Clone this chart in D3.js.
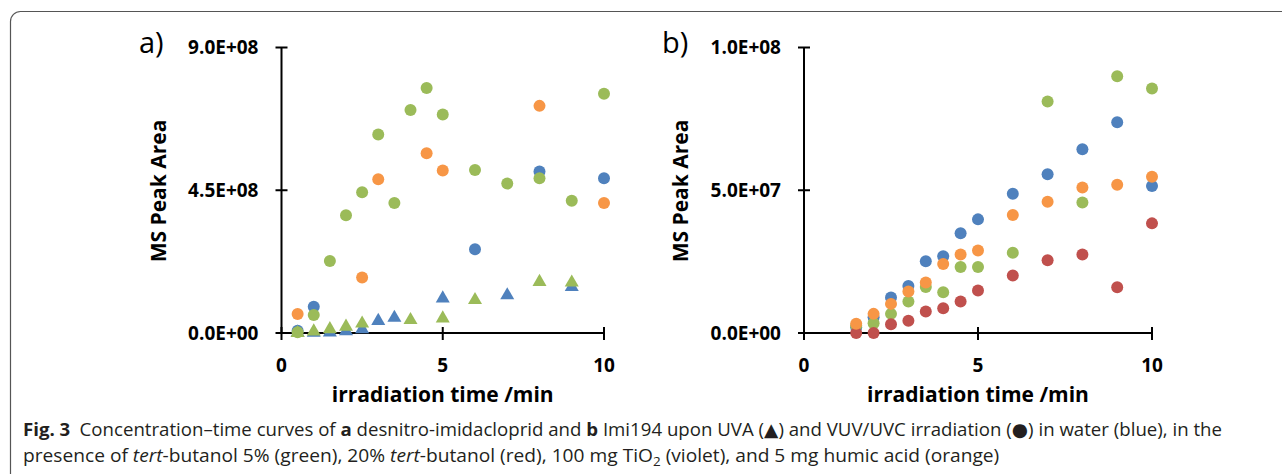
<!DOCTYPE html>
<html>
<head>
<meta charset="utf-8">
<script src="https://cdn.jsdelivr.net/npm/d3@7"></script>
<style>
  body { margin: 0; background: #fff; }
  svg { display: block; }
</style>
</head>
<body>
<svg width="1282" height="474"></svg>
<script>
// Panel a values (x 1e8)
const aWaterUvcTime = [0.5, 1, 6, 8, 10];
const aWaterUvc = [0.07, 0.83, 2.64, 5.09, 4.88];
const aWaterUvaTime = [0.5, 1, 1.5, 2, 2.5, 3, 3.5, 5, 7, 9];
const aWaterUva = [0.01, 0.01, 0.02, 0.06, 0.12, 0.38, 0.48, 1.09, 1.19, 1.45];
const aHumicUvcTime = [0.5, 2.5, 3, 4.5, 5, 8, 10];
const aHumicUvc = [0.60, 1.75, 4.85, 5.67, 5.12, 7.16, 4.10];
const aTbuUvcTime = [0.5, 1, 1.5, 2, 2.5, 3, 3.5, 4, 4.5, 5, 6, 7, 8, 9, 10];
const aTbuUvc = [0.02, 0.57, 2.27, 3.71, 4.44, 6.26, 4.10, 7.03, 7.72, 6.89, 5.14, 4.71, 4.88, 4.17, 7.54];
const aTbuUvaTime = [0.5, 1, 1.5, 2, 2.5, 4, 5, 6, 8, 9];
const aTbuUva = [0.0, 0.05, 0.12, 0.20, 0.30, 0.41, 0.46, 1.04, 1.61, 1.59];

// Panel b values (x 1e6)
const bTime = [1.5, 2, 2.5, 3, 3.5, 4, 4.5, 5, 6, 7, 8, 9, 10];
const bWater = [2.0, 5.5, 12.4, 16.5, 25.1, 26.9, 34.9, 39.8, 48.8, 55.6, 64.4, 73.8, 51.5];
const bTbu5 = [2.5, 3.4, 6.7, 11.0, 16.1, 14.3, 23.1, 23.1, 28.1, 81.1, 45.7, 89.9, 85.6];
const bTbu20 = [0, 0, 3.1, 4.3, 7.5, 8.7, 11.0, 14.9, 20.1, 25.5, 27.5, 16.0, 38.4];
const bHumic = [3.2, 6.7, 10.2, 14.5, 17.7, 24.2, 27.5, 28.9, 41.3, 46.0, 51.0, 51.9, 54.7];

const xTicks = [0, 5, 10];
const aYTicks = [0, 4.5e8, 9e8];
const bYTicks = [0, 5e7, 1e8];
const aYLabels = ["0.0E+00", "4.5E+08", "9.0E+08"];
const bYLabels = ["0.0E+00", "5.0E+07", "1.0E+08"];

const colors = { water: "#4f81bd", tbu5: "#9bbb59", tbu20: "#c0504d", humic: "#f79646" };

const svg = d3.select("svg");

// frame round the figure
svg.append("rect")
    .attr("x", 10.5).attr("y", 11.5)
    .attr("width", 1300).attr("height", 500)
    .attr("rx", 10)
    .attr("fill", "none")
    .attr("stroke", "#555")
    .attr("stroke-width", 1.2);

const zip = (t, v, scale) => t.map((d, i) => ({ t: d, v: v[i] * scale }));

function drawPanel(opts) {
    const x = d3.scaleLinear().domain([0, 10]).range([opts.x0, opts.x1]);
    const y = d3.scaleLinear().domain([0, opts.yMax]).range([333, 47.5]);
    const g = svg.append("g");

    // axes
    g.append("line").attr("x1", x(0)).attr("x2", x(0)).attr("y1", y(opts.yMax)).attr("y2", y(0))
        .attr("stroke", "#000").attr("stroke-width", 2);
    g.append("line").attr("x1", x(0)).attr("x2", x(10)).attr("y1", y(0)).attr("y2", y(0))
        .attr("stroke", "#000").attr("stroke-width", 2);

    opts.yTicks.forEach((v, i) => {
        g.append("line").attr("x1", x(0) - 6).attr("x2", x(0) + 6).attr("y1", y(v)).attr("y2", y(v))
            .attr("stroke", "#000").attr("stroke-width", 2);
        g.append("text").attr("x", x(0) - 23).attr("y", y(v)).attr("dy", "0.35em")
            .attr("text-anchor", "end").attr("font-family", "Open Sans").attr("font-weight", 700)
            .attr("font-size", 19).attr("fill", "#000").text(opts.yLabels[i]);
    });
    xTicks.forEach(v => {
        g.append("line").attr("x1", x(v)).attr("x2", x(v)).attr("y1", y(0) - 6).attr("y2", y(0) + 7)
            .attr("stroke", "#000").attr("stroke-width", 2);
        g.append("text").attr("x", x(v)).attr("y", 365).attr("dy", "0.35em")
            .attr("text-anchor", "middle").attr("font-family", "Open Sans").attr("font-weight", 700)
            .attr("font-size", 19).attr("fill", "#000").text(v);
    });

    // axis titles
    g.append("text")
        .attr("transform", `translate(${x(0) - 123},191) rotate(-90)`)
        .attr("dy", "0.35em").attr("text-anchor", "middle")
        .attr("font-family", "Open Sans").attr("font-weight", 700).attr("font-size", 21)
        .text("MS Peak Area");
    g.append("text")
        .attr("x", (x(0) + x(10)) / 2).attr("y", 395).attr("dy", "0.35em")
        .attr("text-anchor", "middle")
        .attr("font-family", "Open Sans").attr("font-weight", 700).attr("font-size", 21)
        .text("irradiation time /min");

    // panel letter
    g.append("text").attr("x", opts.letterX).attr("y", 53)
        .attr("font-family", "Open Sans").attr("font-size", 29).text(opts.letter);

    // series
    const circle = d3.symbol().type(d3.symbolCircle).size(Math.PI * 36);
    const tri = d3.symbol().type(d3.symbolTriangle).size(85);
    opts.series.forEach(s => {
        g.append("g").selectAll("path")
            .data(s.data)
            .join("path")
            .attr("transform", d => `translate(${x(d.t)},${y(d.v)})`)
            .attr("d", s.shape === "tri" ? tri : circle)
            .attr("fill", s.color);
    });
}

drawPanel({
    x0: 281.5, x1: 604, yMax: 9e8,
    yTicks: aYTicks, yLabels: aYLabels, letter: "a)", letterX: 139,
    series: [
        { data: zip(aWaterUvcTime, aWaterUvc, 1e8), color: colors.water, shape: "circle" },
        { data: zip(aWaterUvaTime, aWaterUva, 1e8), color: colors.water, shape: "tri" },
        { data: zip(aHumicUvcTime, aHumicUvc, 1e8), color: colors.humic, shape: "circle" },
        { data: zip(aTbuUvcTime, aTbuUvc, 1e8), color: colors.tbu5, shape: "circle" },
        { data: zip(aTbuUvaTime, aTbuUva, 1e8), color: colors.tbu5, shape: "tri" }
    ]
});

drawPanel({
    x0: 804, x1: 1152, yMax: 1e8,
    yTicks: bYTicks, yLabels: bYLabels, letter: "b)", letterX: 662,
    series: [
        { data: zip(bTime, bWater, 1e6), color: colors.water, shape: "circle" },
        { data: zip(bTime, bTbu5, 1e6), color: colors.tbu5, shape: "circle" },
        { data: zip(bTime, bTbu20, 1e6), color: colors.tbu20, shape: "circle" },
        { data: zip(bTime, bHumic, 1e6), color: colors.humic, shape: "circle" }
    ]
});

// caption
const cap = svg.append("g").attr("font-family", "Open Sans").attr("font-size", 18.5).attr("fill", "#231f20");
const line1 = cap.append("text").attr("y", 436);
line1.append("tspan").attr("font-weight", 700).text("Fig. 3");
line1.append("tspan").text("\u2002Concentration\u2013time curves of ");
line1.append("tspan").attr("font-weight", 700).text("a");
line1.append("tspan").text(" desnitro-imidacloprid and ");
line1.append("tspan").attr("font-weight", 700).text("b");
line1.append("tspan").text(" Imi194 upon UVA (");
line1.append("tspan").attr("font-family", "DejaVu Sans").text("\u25B2");
line1.append("tspan").text(") and VUV/UVC irradiation (");
line1.append("tspan").attr("font-family", "DejaVu Sans").text("\u25CF");
line1.append("tspan").text(") in water (blue), in the");

const line2 = cap.append("text").attr("y", 462);
line2.append("tspan").text("presence of ");
line2.append("tspan").attr("font-style", "italic").text("tert");
line2.append("tspan").text("-butanol 5% (green), 20% ");
line2.append("tspan").attr("font-style", "italic").text("tert");
line2.append("tspan").text("-butanol (red), 100 mg TiO");
line2.append("tspan").attr("font-size", 13).attr("dy", 4).text("2");
line2.append("tspan").attr("dy", -4).text(" (violet), and 5 mg humic acid (orange)");

// squeeze each line horizontally to the width it has in the reference
[[line1, 1200], [line2, 977]].forEach(([t, target]) => {
    const k = target / t.node().getBBox().width;
    const yy = +t.attr("y");
    t.attr("y", null).attr("transform", `translate(23,${yy}) scale(${k},1)`);
});
</script>
</body>
</html>
